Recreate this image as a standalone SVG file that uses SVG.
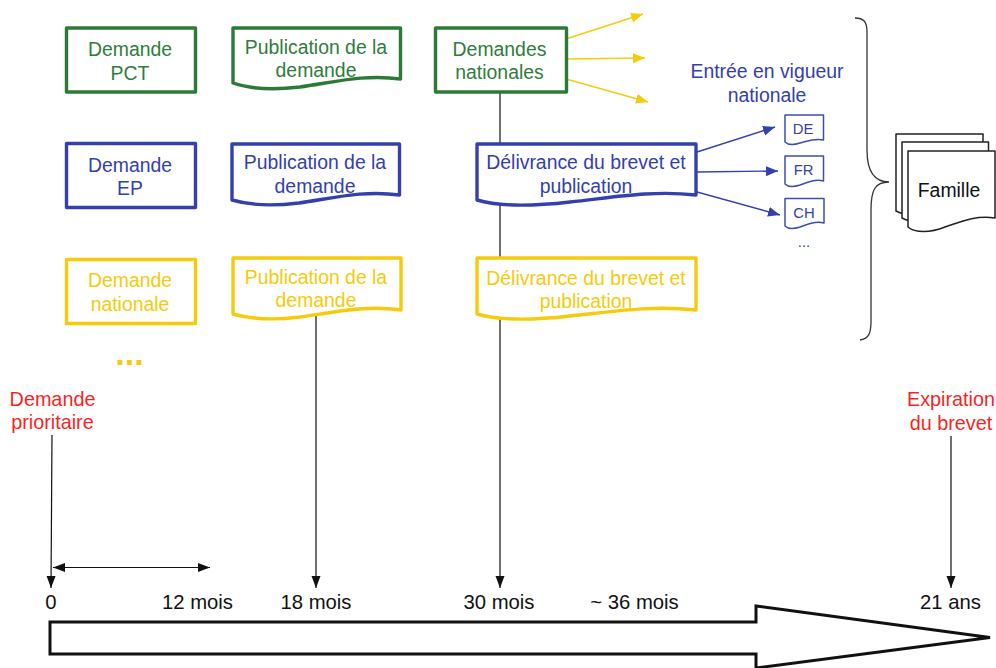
<svg xmlns="http://www.w3.org/2000/svg" width="996" height="668" viewBox="0 0 996 668">
<style>
text{font-family:"Liberation Sans",Arial,sans-serif;font-size:19.4px;text-anchor:middle}
.box{fill:#fff;stroke-width:3.4;stroke-linejoin:round}
.g{stroke:#2b7a37}.b{stroke:#3340ae}.y{stroke:#f5cb0c}
.tg{fill:#2f7d3c}.tb{fill:#3340ae}.ty{fill:#f5cb0c}.tr{fill:#fb1f1f}.tk{fill:#111}
.tl{font-size:20.3px}
.tm{font-size:14.8px}
.k{stroke:#111;stroke-width:1.2;fill:none}
.ay{stroke:#f5cb0c;stroke-width:1.4;fill:none;marker-end:url(#my)}
.ab{stroke:#3340ae;stroke-width:1.4;fill:none;marker-end:url(#mb)}
.mini{fill:#fff;stroke:#3f4cb4;stroke-width:1.5;stroke-linejoin:round}
.fam{fill:#fff;stroke:#222;stroke-width:1.5;stroke-linejoin:round}
</style>
<defs>
<marker id="my" markerUnits="userSpaceOnUse" markerWidth="13" markerHeight="12" refX="12" refY="5" orient="auto"><path d="M0 0L12 5L0 10Z" fill="#f5cb0c"/></marker>
<marker id="mb" markerUnits="userSpaceOnUse" markerWidth="13" markerHeight="12" refX="12" refY="5" orient="auto"><path d="M0 0L12 5L0 10Z" fill="#3340ae"/></marker>
<marker id="mk" markerUnits="userSpaceOnUse" markerWidth="13" markerHeight="12" refX="12" refY="4.5" orient="auto"><path d="M0 0L12 4.5L0 9Z" fill="#111"/></marker>
<marker id="ms" markerUnits="userSpaceOnUse" markerWidth="13" markerHeight="12" refX="0" refY="4.5" orient="auto"><path d="M12 0L0 4.5L12 9Z" fill="#111"/></marker>
</defs>

<g id="connectors">
<path class="k" d="M500 93V588" marker-end="url(#mk)"/>
<path class="k" d="M316 316V588" marker-end="url(#mk)"/>
<path class="k" d="M52 435L51 588" marker-end="url(#mk)"/>
<path class="k" d="M951 436V588" marker-end="url(#mk)"/>
<path class="k" d="M53 567.500H210" stroke-width="1.4" marker-start="url(#ms)" marker-end="url(#mk)"/>
<path class="ay" d="M566 39L643 14"/>
<path class="ay" d="M566 59L645 58"/>
<path class="ay" d="M566 79L648 102"/>
<path class="ab" d="M697 152L775 127"/>
<path class="ab" d="M697 172L778 171"/>
<path class="ab" d="M697 192L780 215"/>
</g>

<g id="demande-pct"><rect class="box g" x="66.500" y="28" width="129" height="64"/><text class="tg" x="130" y="56">Demande</text><text class="tg" x="130" y="79.500">PCT</text></g>
<g id="demande-ep"><rect class="box b" x="66.500" y="143.500" width="129" height="64"/><text class="tb" x="130" y="172">Demande</text><text class="tb" x="130" y="195">EP</text></g>
<g id="demande-nationale"><rect class="box y" x="66.500" y="259.500" width="129" height="64"/><text class="ty" x="130" y="287">Demande</text><text class="ty" x="130" y="311">nationale</text></g>

<g id="publication-pct"><path class="box g" d="M233 28H400.500V79C365 74 335 82 300 87C275 90 250 89 233 83Z"/><text class="tg" x="316" y="54">Publication de la</text><text class="tg" x="316" y="77">demande</text></g>
<g id="publication-ep"><path class="box b" d="M232 144H399.500V195C364 190 334 198 299 203C274 206 249 205 232 200Z"/><text class="tb" x="315" y="169">Publication de la</text><text class="tb" x="315" y="193">demande</text></g>
<g id="publication-nationale"><path class="box y" d="M233 258H401V310C366 305 335 312 300 317C275 320 250 319 233 314Z"/><text class="ty" x="316" y="283.500">Publication de la</text><text class="ty" x="316" y="307">demande</text></g>

<g id="demandes-nationales"><rect class="box g" x="435.500" y="28" width="131" height="64"/><text class="tg" x="499.500" y="56">Demandes</text><text class="tg" x="499.500" y="79">nationales</text></g>
<g id="delivrance-ep"><path class="box b" stroke-width="4" d="M477 144H696V195C650 190 610 198 570 202C535 206 500 207 477 200Z"/><text class="tb" x="586" y="169">Délivrance du brevet et</text><text class="tb" x="586" y="192.500">publication</text></g>
<g id="delivrance-nationale"><path class="box y" d="M477 258H696V310C650 305 610 312 570 316C535 320 500 321 477 314Z"/><text class="ty" x="586" y="284.500">Délivrance du brevet et</text><text class="ty" x="586" y="308">publication</text></g>

<g id="entree-vigueur"><text class="tb" x="767" y="78">Entrée en vigueur</text><text class="tb" x="767" y="102">nationale</text></g>
<g id="doc-de"><path class="mini" d="M785 115H823.500V140C815 138 808 141 800 143C794 145 788 145 785 142Z"/><text class="tb tm" x="803" y="134">DE</text></g>
<g id="doc-fr"><path class="mini" d="M785 156H823.500V181C815 179 808 182 800 185C794 187 788 187 785 184Z"/><text class="tb tm" x="803.500" y="175">FR</text></g>
<g id="doc-ch"><path class="mini" d="M785 198.500H824V223C815 221 808 224 800 227C794 229 788 229 785 226Z"/><text class="tb tm" x="804" y="218">CH</text></g>
<text class="tb tm" x="804" y="247">...</text>
<text class="ty" style="font-size:34px;font-weight:bold" x="129.500" y="365">...</text>

<g id="accolade"><path d="M855 18C864 18 867 22 867 32V150C867 172 875 182 889 182C875 182 871 190 871 210V322C871 334 868 339 860 340" fill="none" stroke="#333" stroke-width="1.300"/></g>

<g id="famille">
<path class="fam" d="M896 134H983V205C965 202 950 208 935 212C920 216 905 216 896 211Z"/>
<path class="fam" d="M902 142H988.500V212C970 209 955 215 940 219C925 223 911 223 902 218Z"/>
<path class="fam" d="M908 151H995V218C975 215 960 222 945 227C930 233 915 233 908 227Z"/>
<text class="tk" x="949" y="197">Famille</text>
</g>

<g id="labels">
<text class="tr" style="font-size:19.800px" x="52.500" y="406">Demande</text><text class="tr" style="font-size:19.800px" x="52.500" y="429">prioritaire</text>
<text class="tr" style="font-size:19.800px" x="951" y="406">Expiration</text><text class="tr" style="font-size:19.800px" x="951" y="430">du brevet</text>
<text class="tk tl" x="51" y="609">0</text>
<text class="tk tl" x="197.500" y="609">12 mois</text>
<text class="tk tl" x="316" y="609">18 mois</text>
<text class="tk tl" x="499" y="609">30 mois</text>
<text class="tk tl" x="634.500" y="609">~ 36 mois</text>
<text class="tk tl" x="950.500" y="609">21 ans</text>
</g>

<g id="fleche-temps"><path d="M50 622H756V606L990 637.500L756 668V654H50Z" fill="#fff" stroke="#111" stroke-width="3" stroke-linejoin="miter"/></g>
</svg>
